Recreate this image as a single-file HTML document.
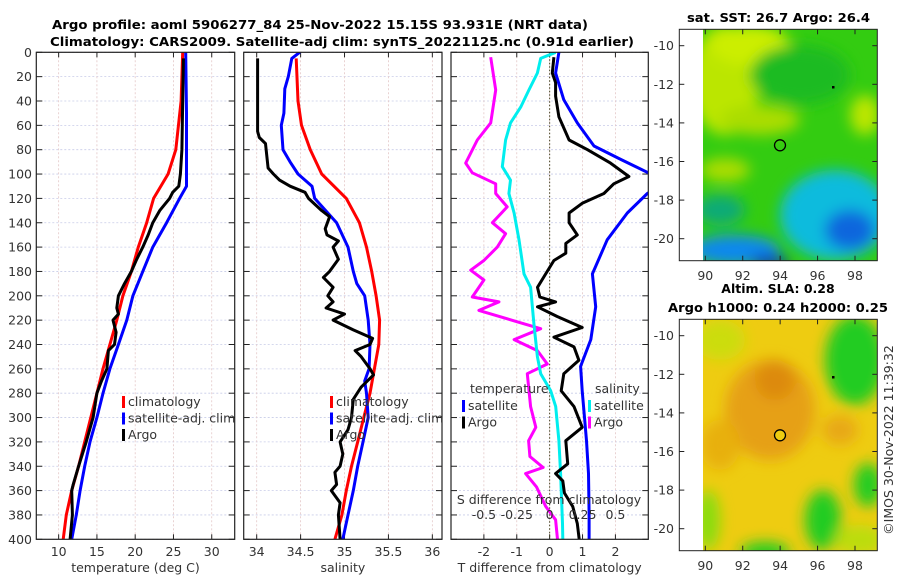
<!DOCTYPE html>
<html><head><meta charset="utf-8">
<style>
html,body{margin:0;padding:0;background:#fff;}
svg{display:block;font-family:"DejaVu Sans","Liberation Sans",sans-serif;}
.tk{font-size:12.5px;fill:#333;}
.tt{font-size:12.5px;font-weight:bold;fill:#000;}
</style></head>
<body>
<svg id="fig" width="900" height="580" viewBox="0 0 900 580" xmlns="http://www.w3.org/2000/svg">
<defs>
 <filter id="blur" x="-20%" y="-20%" width="140%" height="140%"><feGaussianBlur stdDeviation="7"/></filter>
 <clipPath id="cm1"><rect x="703" y="29.3" width="174.3" height="231.4"/></clipPath>
 <clipPath id="cm2"><rect x="703" y="319.3" width="174.3" height="231.4"/></clipPath>
 <clipPath id="cp1"><rect x="36.3" y="52.3" width="198.4" height="487"/></clipPath>
 <clipPath id="cp2"><rect x="243.7" y="52.3" width="198.3" height="487"/></clipPath>
 <clipPath id="cp3"><rect x="451" y="52.3" width="197.3" height="487"/></clipPath>
</defs>
<text class="tt" x="52" y="29" textLength="536" lengthAdjust="spacingAndGlyphs">Argo profile: aoml 5906277_84 25-Nov-2022 15.15S 93.931E (NRT data)</text>
<text class="tt" x="50" y="46" textLength="584" lengthAdjust="spacingAndGlyphs">Climatology: CARS2009. Satellite-adj clim: synTS_20221125.nc (0.91d earlier)</text>

<g id="maps">
 <text class="tt" x="687" y="22" textLength="183" lengthAdjust="spacingAndGlyphs">sat. SST: 26.7 Argo: 26.4</text>
 <g clip-path="url(#cm1)">
  <rect x="703" y="29" width="175" height="232" fill="#33cc11"/>
  <g filter="url(#blur)">
   <ellipse cx="725" cy="80" rx="35" ry="55" fill="#bbe600"/>
   <ellipse cx="750" cy="45" rx="40" ry="20" fill="#ccee00"/>
   <ellipse cx="760" cy="120" rx="40" ry="15" fill="#aadd00"/>
   <ellipse cx="865" cy="115" rx="15" ry="20" fill="#bbe600"/>
   <ellipse cx="800" cy="75" rx="50" ry="30" fill="#1cbb22"/>
   <ellipse cx="725" cy="170" rx="25" ry="12" fill="#aadd00"/>
   <ellipse cx="835" cy="215" rx="55" ry="45" fill="#11bbdd"/>
   <ellipse cx="850" cy="230" rx="25" ry="20" fill="#1166dd"/>
   <ellipse cx="720" cy="210" rx="25" ry="15" fill="#11aa77"/>
   <ellipse cx="735" cy="250" rx="45" ry="15" fill="#1188ee"/>
   <ellipse cx="770" cy="262" rx="20" ry="6" fill="#1122aa"/>
  </g>
  <circle cx="780" cy="145.3" r="5.5" fill="none" stroke="#000" stroke-width="1.3"/>
  <rect x="832" y="86" width="2.5" height="2.5" fill="#000"/>
 </g>
 <rect x="679.3" y="29.3" width="198" height="231.4" fill="none" stroke="#222" stroke-width="1"/>

 <text class="tt" x="778" y="293" text-anchor="middle">Altim. SLA: 0.28</text>
 <text class="tt" x="668" y="312" textLength="220" lengthAdjust="spacingAndGlyphs">Argo h1000: 0.24 h2000: 0.25</text>
 <g clip-path="url(#cm2)">
  <rect x="703" y="319" width="175" height="232" fill="#eecc11"/>
  <g filter="url(#blur)">
   <ellipse cx="770" cy="410" rx="45" ry="50" fill="#e6a012"/>
   <ellipse cx="775" cy="380" rx="20" ry="20" fill="#dd8a10"/>
   <ellipse cx="720" cy="445" rx="20" ry="25" fill="#e8b010"/>
   <ellipse cx="840" cy="430" rx="18" ry="15" fill="#e8a812"/>
   <ellipse cx="855" cy="360" rx="30" ry="45" fill="#22cc22"/>
   <ellipse cx="823" cy="520" rx="18" ry="30" fill="#22cc22"/>
   <ellipse cx="868" cy="485" rx="14" ry="22" fill="#22cc22"/>
   <ellipse cx="708" cy="520" rx="12" ry="30" fill="#88dd11"/>
   <ellipse cx="765" cy="552" rx="25" ry="10" fill="#22cc22"/>
   <ellipse cx="720" cy="340" rx="25" ry="20" fill="#ccdd11"/>
   <ellipse cx="860" cy="540" rx="25" ry="15" fill="#bbdd11"/>
  </g>
  <circle cx="780" cy="435.3" r="5.5" fill="#eecc11" stroke="#000" stroke-width="1.3"/>
  <rect x="832" y="376" width="2.5" height="2.5" fill="#000"/>
 </g>
 <rect x="679.3" y="319.3" width="198" height="231.4" fill="none" stroke="#222" stroke-width="1"/>
 <text x="893" y="440" font-size="12.5" fill="#333" text-anchor="middle" transform="rotate(-90 893 440)">©IMOS 30-Nov-2022 11:39:32</text>
</g>
<g id="dyn"></g>
</svg>
<script>
// ---- data ----
const depthTicks=[0,20,40,60,80,100,120,140,160,180,200,220,240,260,280,300,320,340,360,380,400];
const tempTicks=[10,15,20,25,30];
const salTicks=[34,34.5,35,35.5,36];
const tdiffTicks=[-2,-1,0,1,2];
const sdiffTicks=[-0.5,-0.25,0,0.25,0.5];
const sdiffLabels=['-0.5','-0.25','0','0.25','0.5'];
const lonTicks=[90,92,94,96,98];
const latTicks=[-10,-12,-14,-16,-18,-20];

const tClimDepth=[0,40,80,100,120,140,160,180,200,220,240,260,280,300,320,340,360,380,400];
const tClim=[26.2,26.0,25.3,24.3,22.4,21.5,20.4,19.5,18.4,17.6,16.7,15.8,15.0,14.2,13.4,12.6,11.7,11.0,10.6];
const tSatDepth=[0,50,110,120,140,160,180,200,220,240,260,280,300,320,340,360,380,400];
const tSat=[26.6,26.7,26.7,25.8,24.1,22.3,21.0,19.7,18.9,17.8,16.7,15.8,15.0,14.1,13.4,12.8,12.3,11.7];
const tArgoDepth=[5,40,80,100,110,115,120,130,140,150,160,170,180,190,200,210,215,220,230,240,245,260,270,280,300,320,340,355,360,380,400];
const tArgo=[26.3,26.2,26.1,25.9,25.7,24.9,24.5,23.2,22.3,21.7,21.0,20.2,19.5,18.6,17.8,17.6,17.8,17.1,17.5,17.3,16.5,16.3,15.6,15.0,14.5,13.6,12.6,11.9,11.7,11.8,11.5];

const sClimDepth=[5,40,60,80,100,120,140,160,180,200,220,240,260,280,300,320,340,360,380,400];
const sClim=[34.45,34.47,34.51,34.61,34.74,35.02,35.17,35.25,35.31,35.36,35.40,35.39,35.34,35.29,35.22,35.15,35.08,35.02,34.97,34.89];
const sSatDepth=[0,5,20,30,50,60,80,90,100,110,120,140,160,180,190,200,220,240,260,270,280,300,320,340,360,380,400];
const sSat=[34.49,34.40,34.36,34.32,34.31,34.28,34.30,34.38,34.47,34.63,34.66,34.91,35.04,35.10,35.14,35.23,35.27,35.29,35.28,35.23,35.25,35.27,35.21,35.15,35.10,35.04,34.98];
const sArgoDepth=[5,65,70,75,95,100,105,110,115,120,130,135,145,150,155,160,170,180,185,193,200,205,210,215,220,228,235,240,245,250,260,265,275,285,300,310,320,330,340,345,355,360,370,380,400];
const sArgo=[34.01,34.01,34.03,34.10,34.13,34.19,34.26,34.38,34.55,34.59,34.74,34.83,34.78,34.80,34.93,34.87,34.93,34.83,34.76,34.87,34.81,34.87,34.79,35.00,34.87,35.10,35.32,35.29,35.12,35.19,35.29,35.33,35.19,35.10,35.08,35.04,34.95,34.98,34.95,34.89,34.91,34.85,34.95,34.93,34.95];

const dtSatDepth=[0,17,39,58,77,88,99,107,116,132,154,182,209,236,258,278,319,346,379,400];
const dtSat=[0.28,0.18,0.43,0.84,1.35,2.16,3.0,3.5,2.97,2.36,1.75,1.30,1.40,1.25,0.94,0.99,1.12,1.18,1.20,1.2];
const dtArgoDepth=[4,17,25,36,53,72,80,91,102,108,116,124,132,140,150,157,165,171,182,193,201,205,209,217,226,234,242,253,264,278,291,308,319,338,346,352,362,373,387,400];
const dtArgo=[0.13,0.08,0.18,0.18,0.28,0.59,1.15,1.85,2.41,1.95,1.65,0.99,0.59,0.59,0.84,0.49,0.49,0.13,-0.12,-0.37,-0.30,0.18,-0.37,0.23,0.99,0.13,0.74,0.89,0.43,0.35,0.74,0.99,0.49,0.55,0.18,0.40,0.45,0.70,0.84,0.9];
const dsSatDepth=[0,5,17,31,45,58,72,94,105,116,132,154,182,193,223,250,264,278,291,319,346,387,400];
const dsSat=[0.046,-0.068,-0.093,-0.158,-0.22,-0.298,-0.335,-0.36,-0.298,-0.31,-0.27,-0.233,-0.195,-0.145,-0.12,-0.093,-0.068,0.008,0.046,0.07,0.083,0.098,0.1];
const dsArgoDepth=[4,31,58,72,91,99,108,116,127,140,149,160,171,179,187,201,205,212,223,227,236,245,256,264,291,308,319,332,341,346,357,373,384,400];
const dsArgo=[-0.448,-0.41,-0.448,-0.55,-0.638,-0.588,-0.41,-0.41,-0.323,-0.435,-0.335,-0.398,-0.5,-0.6,-0.5,-0.588,-0.385,-0.538,-0.195,-0.068,-0.27,-0.093,-0.018,-0.17,-0.145,-0.105,-0.16,-0.15,-0.05,-0.183,-0.1,-0.03,0.045,0.06];

// ---- helpers ----
const NS='http://www.w3.org/2000/svg';
const root=document.getElementById('dyn');
function mk(tag,attrs,parent){const e=document.createElementNS(NS,tag);for(const k in attrs)e.setAttribute(k,attrs[k]);(parent||root).appendChild(e);return e;}
const Y0=52.3,Y1=539.3;
const yD=d=>Y0+(Y1-Y0)*d/400;
function lin(d0,d1,r0,r1){return v=>r0+(v-d0)*(r1-r0)/(d1-d0);}
const P1={x0:36.3,x1:234.7,sx:lin(7.08,33.0,36.3,234.7)};
const P2={x0:243.7,x1:442,sx:lin(33.852,36.11,243.7,442)};
const P3={x0:451,x1:648.3,sx:lin(-3.0,3.0,451,648.3)};
const sdx=v=>P3.sx(v*4);

function frame(P,name,xt,xlab,xfmt,leftLabels){
  const g=mk('g',{});
  
  
  depthTicks.forEach(d=>{
    mk('line',{x1:P.x0,x2:P.x1,y1:yD(d),y2:yD(d),stroke:'#c8cce8','stroke-width':0.8,'stroke-dasharray':'2,2'},g);
  });
  xt.forEach(v=>{
    const x=P.sx(v);
    mk('line',{x1:x,x2:x,y1:Y0,y2:Y1,stroke:'#e4c8c8','stroke-width':0.8,'stroke-dasharray':'2,2'},g);
    mk('line',{x1:x,x2:x,y1:Y1,y2:Y1-5,stroke:'#222','stroke-width':1},g);
    mk('line',{x1:x,x2:x,y1:Y0,y2:Y0+5,stroke:'#222','stroke-width':1},g);
    const t=mk('text',{x:x,y:556,'text-anchor':'middle',class:'tk'},g);t.textContent=xfmt(v);
    
    
  });
  depthTicks.forEach(d=>{
    mk('line',{x1:P.x0,x2:P.x0+6,y1:yD(d),y2:yD(d),stroke:'#222','stroke-width':1},g);
    mk('line',{x1:P.x1,x2:P.x1-6,y1:yD(d),y2:yD(d),stroke:'#222','stroke-width':1},g);
    if(leftLabels){const t=mk('text',{x:32,y:yD(d)+4.5,'text-anchor':'end',class:'tk'},g);t.textContent=d;
      
      }
  });
  const l=mk('text',{x:(P.x0+P.x1)/2,y:572,'text-anchor':'middle',class:'tk'},g);l.textContent=xlab;
  
  
  return g;
}
function line(P,sx,depths,vals,color,clip,name){
  let dstr='';depths.forEach((d,i)=>{dstr+=(i?'L':'M')+sx(vals[i]).toFixed(1)+','+yD(d).toFixed(1);});
  const p=mk('path',{d:dstr,fill:'none',stroke:color,'stroke-width':3,'stroke-linejoin':'round','clip-path':'url(#'+clip+')'});
  
  
}
function box(P){mk('rect',{x:P.x0,y:Y0,width:P.x1-P.x0,height:Y1-Y0,fill:'none',stroke:'#222','stroke-width':1.2});}
function legend(x,y,items){
  items.forEach((it,i)=>{
    mk('rect',{x:x,y:y+i*16.5-10,width:3,height:12,fill:it[1]});
    const t=mk('text',{x:x+6,y:y+i*16.5,class:'tk',fill:'#000','font-size':'13'});t.textContent=it[0];
    
    
  });
}

// panel 1
frame(P1,'temperature-panel',tempTicks,'temperature (deg C)',v=>v,true);
line(P1,P1.sx,tClimDepth,tClim,'#ff0000','cp1','temp-climatology-line');
line(P1,P1.sx,tSatDepth,tSat,'#0000ff','cp1','temp-satellite-line');
line(P1,P1.sx,tArgoDepth,tArgo,'#000000','cp1','temp-argo-line');
box(P1);
legend(122,406,[['climatology','#ff0000'],['satellite-adj. clim','#0000ff'],['Argo','#000']]);

// panel 2
frame(P2,'salinity-panel',salTicks,'salinity',v=>v,false);
line(P2,P2.sx,sClimDepth,sClim,'#ff0000','cp2','sal-climatology-line');
line(P2,P2.sx,sSatDepth,sSat,'#0000ff','cp2','sal-satellite-line');
line(P2,P2.sx,sArgoDepth,sArgo,'#000000','cp2','sal-argo-line');
box(P2);
legend(330,406,[['climatology','#ff0000'],['satellite-adj. clim','#0000ff'],['Argo','#000']]);

// panel 3
frame(P3,'difference-panel',tdiffTicks,'T difference from climatology',v=>v,false);
mk('line',{x1:P3.sx(0),x2:P3.sx(0),y1:Y0,y2:Y1,stroke:'#444422','stroke-width':1,'stroke-dasharray':'1.5,2'});
line(P3,sdx,dsArgoDepth,dsArgo,'#ff00ff','cp3','sal-diff-argo-line');
line(P3,sdx,dsSatDepth,dsSat,'#00eeee','cp3','sal-diff-satellite-line');
line(P3,P3.sx,dtSatDepth,dtSat,'#0000ff','cp3','temp-diff-satellite-line');
line(P3,P3.sx,dtArgoDepth,dtArgo,'#000000','cp3','temp-diff-argo-line');
box(P3);
{const t=mk('text',{x:470,y:393,class:'tk',fill:'#000','font-size':'13'});t.textContent='temperature';
 }
{const t=mk('text',{x:595,y:393,class:'tk',fill:'#000','font-size':'13'});t.textContent='salinity';
 }
legend(462,410,[['satellite','#0000ff'],['Argo','#000']]);
legend(588,410,[['satellite','#00eeee'],['Argo','#ff00ff']]);
{const t=mk('text',{x:549,y:504,'text-anchor':'middle',class:'tk',fill:'#000','font-size':'13'});t.textContent='S difference from climatology';
 }
sdiffTicks.forEach((v,i)=>{
  const t=mk('text',{x:sdx(v),y:519,'text-anchor':'middle',class:'tk',fill:'#000'});t.textContent=sdiffLabels[i];
  
  
});

// map axes
const lonX=lin(90,98,705.3,855);
const latY=lin(-10,-20,45.7,238.7);
[0,290].forEach(off=>{
  lonTicks.forEach(v=>{
    mk('line',{x1:lonX(v),x2:lonX(v),y1:260.7+off,y2:255.7+off,stroke:'#222'});
    mk('line',{x1:lonX(v),x2:lonX(v),y1:29.3+off,y2:34.3+off,stroke:'#222'});
    const t=mk('text',{x:lonX(v),y:280+off,'text-anchor':'middle',class:'tk'});t.textContent=v;
    
    
  });
  latTicks.forEach(v=>{
    mk('line',{x1:679.3,x2:684.3,y1:latY(v)+off,y2:latY(v)+off,stroke:'#222'});
    mk('line',{x1:877.3,x2:872.3,y1:latY(v)+off,y2:latY(v)+off,stroke:'#222'});
    const t=mk('text',{x:674,y:latY(v)+off+4.5,'text-anchor':'end',class:'tk'});t.textContent=v;
    
    
  });
});
</script>
</body></html>
